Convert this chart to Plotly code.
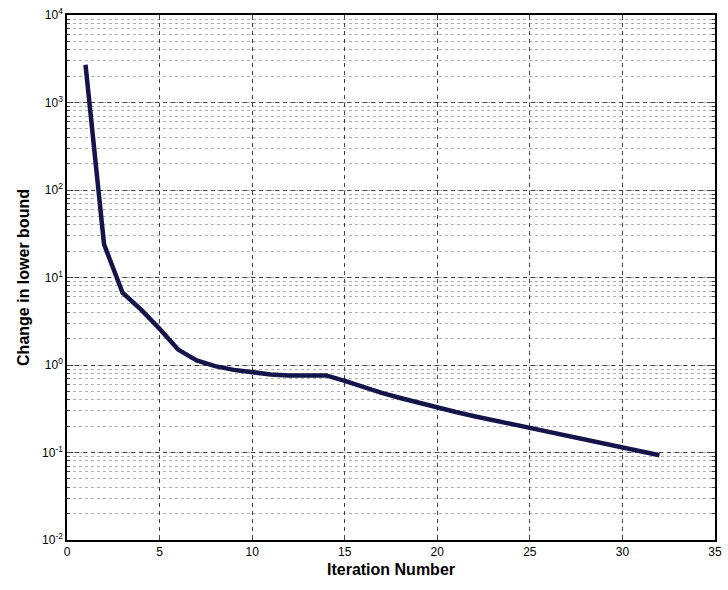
import plotly.graph_objects as go

iterations = list(range(1, 33))
change_lb = [2700, 24, 6.7, 4.3, 2.6, 1.5, 1.13, 0.97, 0.88, 0.82,
             0.78, 0.76, 0.76, 0.76, 0.66, 0.56, 0.48, 0.42, 0.37, 0.32,
             0.29, 0.26, 0.235, 0.21, 0.19, 0.17, 0.155, 0.14, 0.125, 0.113,
             0.103, 0.093]

x_ticks = [0, 5, 10, 15, 20, 25, 30, 35]
y_ticks = [1e-2, 1e-1, 1e0, 1e1, 1e2, 1e3, 1e4]
y_ticktext = ["10<sup>-2</sup>", "10<sup>-1</sup>", "10<sup>0</sup>", "10<sup>1</sup>",
              "10<sup>2</sup>", "10<sup>3</sup>", "10<sup>4</sup>"]

fig = go.Figure()
fig.add_trace(go.Scatter(x=iterations, y=change_lb, mode="lines",
                         line=dict(color="#14144a", width=4.5)))

font = "Liberation Sans, Arial, sans-serif"
fig.update_layout(
    width=728, height=590,
    margin=dict(l=67, r=6, t=15, b=50),
    paper_bgcolor="white", plot_bgcolor="white",
    showlegend=False,
    font=dict(family=font, size=12, color="black"),
    xaxis=dict(
        range=[0, 35], tickvals=x_ticks, ticks="inside", ticklen=5,
        showline=True, linecolor="black", linewidth=1.5, mirror="allticks",
        showgrid=True, gridcolor="#444444", griddash="4px,4px", gridwidth=1,
        zeroline=False,
        title=dict(text="<b>Iteration Number</b>", font=dict(size=16, family=font), standoff=6),
        tickfont=dict(size=12),
    ),
    yaxis=dict(
        type="log", range=[-2, 4], tickvals=y_ticks, ticktext=y_ticktext,
        ticks="inside", ticklen=6,
        showline=True, linecolor="black", linewidth=1.5, mirror="allticks",
        showgrid=True, gridcolor="#444444", griddash="4px,4px", gridwidth=1,
        minor=dict(dtick="D1", ticks="inside", ticklen=3, showgrid=True,
                   gridcolor="#b0b0b0", griddash="dot", gridwidth=1),
        zeroline=False,
        title=dict(text="<b>Change in lower bound</b>", font=dict(size=16, family=font), standoff=8),
        tickfont=dict(size=12),
    ),
)

fig.write_html("out.html")
